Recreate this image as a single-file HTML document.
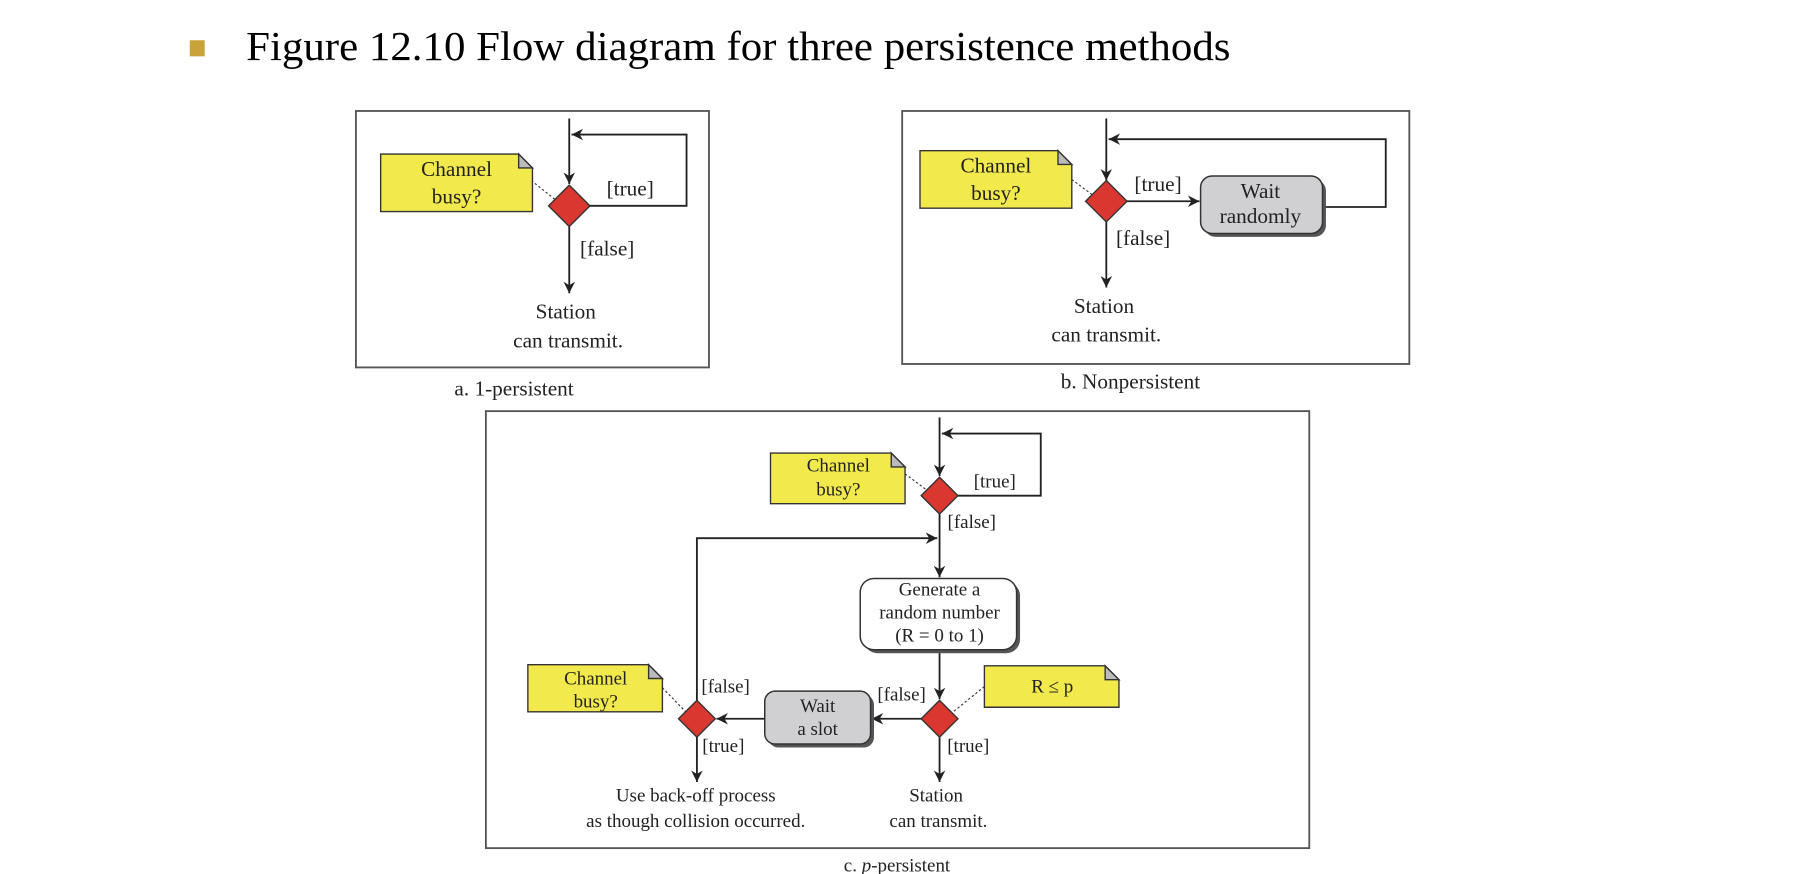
<!DOCTYPE html>
<html><head><meta charset="utf-8"><style>
html,body{margin:0;padding:0;background:#fff;}
svg{display:block;}
text{font-family:"Liberation Serif",serif;fill:#222;}
</style></head><body>
<svg width="1794" height="874" viewBox="0 0 1560 760" preserveAspectRatio="none" xmlns="http://www.w3.org/2000/svg">
<defs>
<marker id="ar" viewBox="0 0 10 10" refX="10" refY="5" markerWidth="11" markerHeight="10" orient="auto" markerUnits="userSpaceOnUse"><path d="M0,0 L10,5 L0,10 L3,5 z" fill="#222"/></marker>
</defs>
<rect x="165" y="35" width="13" height="14" fill="#c9a23a"/>
<text x="214" y="52" font-size="36" textLength="856" lengthAdjust="spacingAndGlyphs" style="fill:#000">Figure 12.10  Flow diagram for three persistence methods</text>

<g stroke="#222" fill="none" stroke-width="1.6">
<!-- a -->
<rect x="309.5" y="96.5" width="307" height="223" stroke="#555"/>
<line x1="495" y1="103" x2="495" y2="160" marker-end="url(#ar)"/>
<polyline points="513,179 597,179 597,117 497,117" marker-end="url(#ar)"/>
<line x1="495" y1="197" x2="495" y2="255" marker-end="url(#ar)"/>
<!-- b -->
<rect x="784.5" y="96.5" width="441" height="220" stroke="#555"/>
<line x1="962" y1="103" x2="962" y2="157" marker-end="url(#ar)"/>
<line x1="980" y1="175" x2="1043" y2="175" marker-end="url(#ar)"/>
<polyline points="1150,180 1205,180 1205,121 964,121" marker-end="url(#ar)"/>
<line x1="962" y1="193" x2="962" y2="250" marker-end="url(#ar)"/>
<!-- c -->
<rect x="422.5" y="357.5" width="716" height="380" stroke="#555"/>
<line x1="817" y1="363" x2="817" y2="414" marker-end="url(#ar)"/>
<polyline points="833,431 905,431 905,377 819,377" marker-end="url(#ar)"/>
<line x1="817" y1="447" x2="817" y2="502" marker-end="url(#ar)"/>
<polyline points="606,609 606,468 815,468" marker-end="url(#ar)"/>
<line x1="817" y1="565" x2="817" y2="608" marker-end="url(#ar)"/>
<line x1="801" y1="625" x2="758" y2="625" marker-end="url(#ar)"/>
<line x1="665" y1="625" x2="623" y2="625" marker-end="url(#ar)"/>
<line x1="606" y1="641" x2="606" y2="680" marker-end="url(#ar)"/>
<line x1="817" y1="641" x2="817" y2="680" marker-end="url(#ar)"/>
</g>

<g stroke="#333" stroke-width="1" stroke-dasharray="2,2" fill="none">
<line x1="462" y1="157" x2="492" y2="181"/>
<line x1="932" y1="156" x2="960" y2="177"/>
<line x1="787" y1="412" x2="815" y2="433"/>
<line x1="856" y1="597" x2="819" y2="627"/>
<line x1="576" y1="598" x2="604" y2="627"/>
</g>

<g stroke="#333" stroke-width="1.2">
<path d="M331,134 H451 L463,146 V184 H331 Z" fill="#f2ea4c"/>
<path d="M451,134 V146 H463 Z" fill="#bbb"/>
<path d="M800,131 H920 L932,143 V181 H800 Z" fill="#f2ea4c"/>
<path d="M920,131 V143 H932 Z" fill="#bbb"/>
<path d="M670,394 H775 L787,406 V438 H670 Z" fill="#f2ea4c"/>
<path d="M775,394 V406 H787 Z" fill="#bbb"/>
<path d="M856,579 H961 L973,591 V615 H856 Z" fill="#f2ea4c"/>
<path d="M961,579 V591 H973 Z" fill="#bbb"/>
<path d="M459,578 H564 L576,590 V619 H459 Z" fill="#f2ea4c"/>
<path d="M564,578 V590 H576 Z" fill="#bbb"/>
</g>

<rect x="1047" y="156" width="106" height="50" rx="10" fill="#555"/>
<rect x="1044" y="153" width="106" height="50" rx="10" fill="#d0d0d2" stroke="#333" stroke-width="1.3"/>
<rect x="751" y="506" width="136" height="62" rx="12" fill="#555"/>
<rect x="748" y="503" width="136" height="62" rx="12" fill="#fff" stroke="#333" stroke-width="1.3"/>
<rect x="668" y="604" width="92" height="46" rx="9" fill="#555"/>
<rect x="665" y="601" width="92" height="46" rx="9" fill="#d0d0d2" stroke="#333" stroke-width="1.3"/>

<g fill="#d9372f" stroke="#333" stroke-width="1.2">
<polygon points="495,161 513,179 495,197 477,179"/>
<polygon points="962,157 980,175 962,193 944,175"/>
<polygon points="817,415 833,431 817,447 801,431"/>
<polygon points="817,609 833,625 817,641 801,625"/>
<polygon points="606,609 622,625 606,641 590,625"/>
</g>

<g text-anchor="middle" font-size="18.5">
<text x="397" y="153">Channel</text><text x="397" y="177">busy?</text>
<text x="548" y="170">[true]</text>
<text x="528" y="222">[false]</text>
<text x="492" y="277">Station</text><text x="494" y="302">can transmit.</text>
<text x="447" y="344">a. 1-persistent</text>

<text x="866" y="150">Channel</text><text x="866" y="174">busy?</text>
<text x="1007" y="166">[true]</text>
<text x="994" y="213">[false]</text>
<text x="1096" y="172">Wait</text><text x="1096" y="194">randomly</text>
<text x="960" y="272">Station</text><text x="962" y="297">can transmit.</text>
<text x="983" y="338">b. Nonpersistent</text>
</g>
<g text-anchor="middle" font-size="16.5">
<text x="729" y="410">Channel</text><text x="729" y="431">busy?</text>
<text x="865" y="424">[true]</text>
<text x="845" y="459">[false]</text>
<text x="817" y="518">Generate a</text>
<text x="817" y="538">random number</text>
<text x="817" y="558">(R = 0 to 1)</text>
<text x="915" y="602">R ≤ p</text>
<text x="784" y="609">[false]</text>
<text x="711" y="619">Wait</text><text x="711" y="639">a slot</text>
<text x="518" y="595">Channel</text><text x="518" y="615">busy?</text>
<text x="631" y="602">[false]</text>
<text x="629" y="654">[true]</text>
<text x="842" y="654">[true]</text>
<text x="605" y="697">Use back-off process</text>
<text x="605" y="719">as though collision occurred.</text>
<text x="814" y="697">Station</text><text x="816" y="719">can transmit.</text>
<text x="780" y="758">c. <tspan font-style="italic">p</tspan>-persistent</text>
</g>
</svg>
</body></html>
